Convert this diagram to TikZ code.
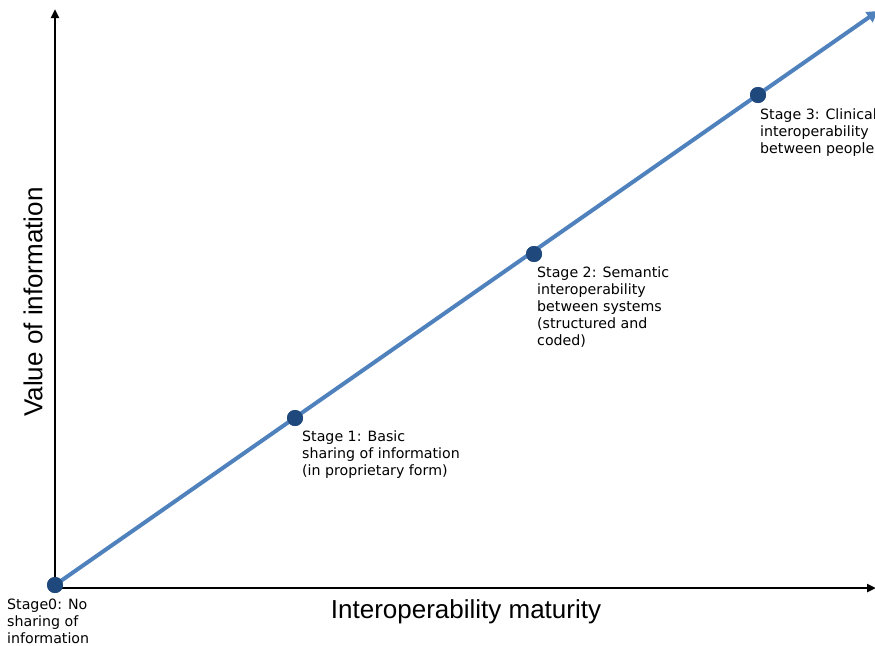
\documentclass[tikz,border=0pt]{standalone}
\usepackage{fontspec}
\setmainfont{DejaVu Sans}
\newfontfamily\axisfont{Liberation Sans}
\usepackage{tikz}
\usetikzlibrary{arrows.meta}

\definecolor{lineblue}{HTML}{4F81BD}
\definecolor{dotblue}{HTML}{1F497D}

\tikzset{
	stage/.style={circle,fill=dotblue,inner sep=0pt,minimum size=16pt},
	stagetext/.style={anchor=north west,align=left,inner sep=0pt,font=\fontsize{14.2}{17}\selectfont},
	axis/.style={line width=2.4pt,-{Triangle[length=9pt,width=8pt]}},
	axislabel/.style={font=\axisfont\fontsize{26}{30}\selectfont}
}

\begin{document}
\begin{tikzpicture}[x=1pt,y=-1pt]
		\useasboundingbox (0,0) rectangle (875,645);
		
		% axes
		\coordinate (o) at (55,588);
		\coordinate (ytop) at (55,9);
		\coordinate (xend) at (876,588);
		\draw[axis] (o) -- (ytop);
		\draw[axis] (o) -- (xend);
		\node[axislabel] (xl) at (466,612) {Interoperability maturity};
		\node[axislabel,rotate=90] (yl) at (33,302) {Value of information};
		
		% stages along the line
		\coordinate (top) at (878,11);
		\node[stage](s0)at(55,585) {};
		\node[stage](s1)at(295,418) {};
		\node[stage](s2)at(534,254) {};
		\node[stage](s3)at(758,95) {};
		\draw[line width=4pt,lineblue,-{Triangle[length=11pt,width=12pt]}](s0.center) -- (top);
		\foreach \s in {s0,s1,s2,s3}
			\node[stage] at (\s) {};
		
		\node[stagetext](t0)at(7,599) {Stage0: No\\sharing of\\information};
		\node[stagetext](t1)at(302,431) {Stage 1: Basic\\sharing of information\\(in proprietary form)};
		\node[stagetext](t2)at(537,267) {Stage 2: Semantic\\interoperability\\between systems\\(structured and\\coded)};
		\node[stagetext](t3)at(760,109) {Stage 3: Clinical\\interoperability\\between people};
	\end{tikzpicture}
\end{document}
